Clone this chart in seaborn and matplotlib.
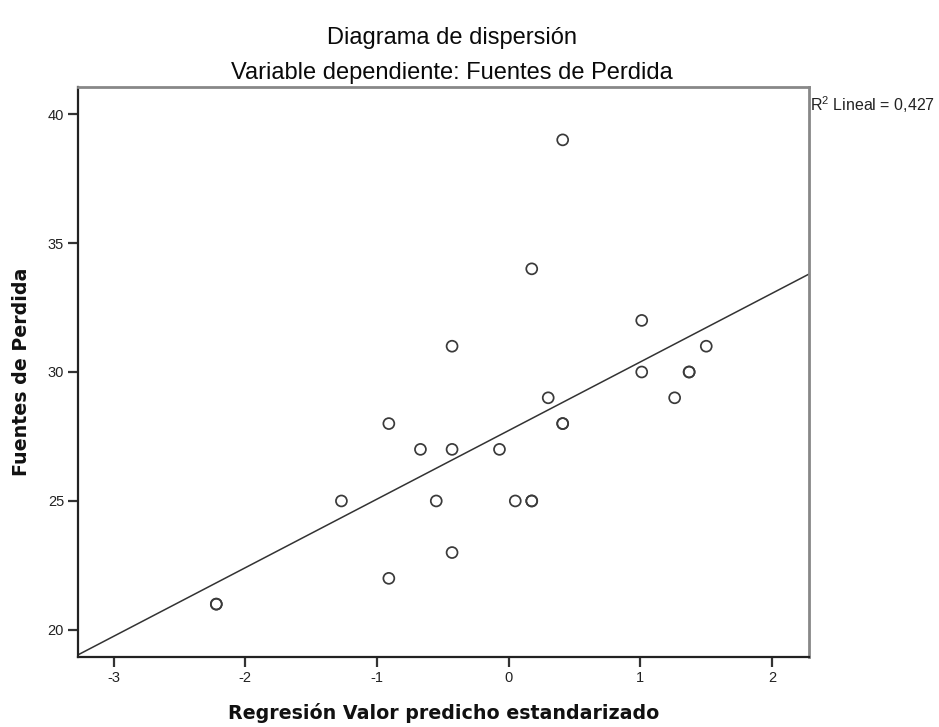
import matplotlib
matplotlib.use("Agg")
import matplotlib.pyplot as plt
import seaborn as sns
import pandas as pd

# Data
pred_std = [-2.22, -2.22, 0.41, 0.175, -0.43, 0.30, -0.91, 0.41, 0.41,
            -0.67, -0.43, -0.07, -1.27, -0.55, 0.05, 0.175, 0.175,
            -0.43, -0.91, 1.01, 1.50, 1.01, 1.37, 1.37, 1.26]
fuentes = [21, 21, 39, 34, 31, 29, 28, 28, 28,
           27, 27, 27, 25, 25, 25, 25, 25,
           23, 22, 32, 31, 30, 30, 30, 29]
x_ticks = [-3, -2, -1, 0, 1, 2]
y_ticks = [20, 25, 30, 35, 40]
r2_text = "R$^2$ Lineal = 0,427"

df = pd.DataFrame({"x": pred_std, "y": fuentes})

sns.set_theme(style="white")
plt.rcParams["font.family"] = ["Liberation Sans", "DejaVu Sans"]
plt.rcParams["mathtext.fontset"] = "custom"
plt.rcParams["mathtext.rm"] = "Liberation Sans"

fig = plt.figure(figsize=(9.39, 7.27), dpi=100)
ax = fig.add_axes([78/939, 1-657/727, (809-78)/939, (657-87)/727])

xlim = (-3.27, 2.28)
ylim = (18.95, 41.05)
ax.set_xlim(*xlim)
ax.set_ylim(*ylim)

sns.regplot(data=df, x="x", y="y", ax=ax, ci=None, truncate=False,
            scatter=False, line_kws=dict(color="#333333", lw=1.1))
sns.scatterplot(data=df, x="x", y="y", ax=ax, s=62, facecolor="none",
                edgecolor="#3a3a3a", linewidth=1.25, legend=False, zorder=3)

ax.set_xlim(*xlim)
ax.set_ylim(*ylim)
ax.set_xticks(x_ticks)
ax.set_yticks(y_ticks)
ax.set_xticklabels([str(t) for t in x_ticks])
ax.set_yticklabels([str(t) for t in y_ticks])
ax.tick_params(axis="both", which="major", direction="out", length=7.5,
               width=1.6, color="#333333", labelsize=10.5, labelcolor="#222222",
               pad=2.5, bottom=True, left=True)

for side in ["left", "bottom"]:
    ax.spines[side].set_color("#222222")
    ax.spines[side].set_linewidth(1.6)
for side in ["top", "right"]:
    ax.spines[side].set_color("#888888")
    ax.spines[side].set_linewidth(2.0)

ax.set_xlabel("Regresión Valor predicho estandarizado", fontsize=13.7,
              fontweight="bold", family=["DejaVu Sans"], labelpad=13, color="#111111")
ax.set_ylabel("Fuentes de Perdida", fontsize=13.7, fontweight="bold",
              family=["DejaVu Sans"], labelpad=12, color="#111111")

cx = 452 / 939
fig.text(cx, 1 - 38/727, "Diagrama de dispersión", ha="center", va="center",
         fontsize=17, color="#0a0a0a")
fig.text(cx, 1 - 73/727, "Variable dependiente: Fuentes de Perdida", ha="center",
         va="center", fontsize=17, color="#0a0a0a")

fig.text(810/939, 1 - 105/727, r2_text, ha="left", va="center", fontsize=11.5,
         color="#222222")

fig.savefig("out.png", dpi=100)
